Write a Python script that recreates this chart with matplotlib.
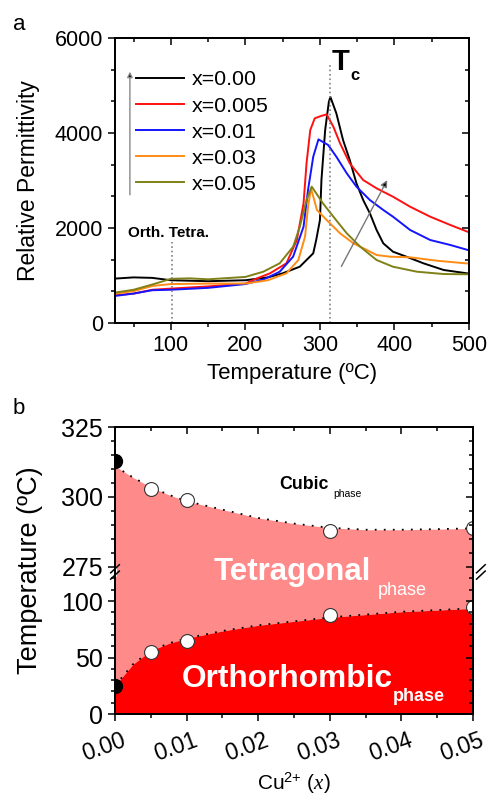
import numpy as np
import matplotlib
matplotlib.use('Agg')
from matplotlib import pyplot as plt
from matplotlib.ticker import MultipleLocator, FixedLocator
import matplotlib.transforms as mtransforms

plt.rcParams['font.family'] = ['Liberation Sans', 'DejaVu Sans']
plt.rcParams['mathtext.fontset'] = 'custom'
plt.rcParams['mathtext.rm'] = 'Liberation Sans'
plt.rcParams['mathtext.it'] = 'Liberation Serif:italic'
plt.rcParams['mathtext.bf'] = 'Liberation Sans:bold'
plt.rcParams['axes.linewidth'] = 1.2

# ---- panel a: permittivity vs temperature ----
T_000 = [25, 50, 75, 100, 150, 200, 230, 250, 273, 291, 295, 300, 302, 307, 312, 314,
         322, 331, 340, 349, 358, 367, 376, 385, 398, 416, 439, 466, 500]
e_000 = [935, 960, 950, 900, 880, 900, 960, 1046, 1186, 1467, 1750, 2168, 3010, 4063, 4660, 4760,
         4414, 3852, 3431, 2940, 2589, 2309, 1958, 1677, 1501, 1396, 1256, 1116, 1040]
T_0005 = [25, 50, 75, 100, 150, 200, 215, 233, 255, 269, 278, 282, 287, 293, 300, 309,
          318, 327, 340, 358, 376, 398, 421, 448, 475, 500]
e_0005 = [584, 619, 700, 724, 770, 830, 935, 1046, 1257, 1747, 2520, 3361, 4063, 4309, 4350, 4393,
          4133, 3782, 3361, 3010, 2835, 2659, 2448, 2238, 2063, 1910]
T_001 = [25, 50, 75, 100, 150, 200, 225, 246, 264, 278, 284, 291, 298, 311, 322, 336,
         349, 367, 385, 398, 421, 448, 475, 500]
e_001 = [570, 620, 690, 700, 740, 820, 920, 1080, 1396, 2027, 2800, 3501, 3866, 3747, 3501, 3151,
         2870, 2589, 2379, 2238, 1958, 1747, 1642, 1530]
T_003 = [25, 50, 75, 100, 150, 200, 230, 255, 271, 280, 284, 288, 296, 309, 327, 345,
         363, 376, 394, 421, 457, 500]
e_003 = [620, 670, 780, 820, 830, 830, 900, 1046, 1326, 1817, 2448, 2835, 2379, 2168, 1888, 1677,
         1537, 1431, 1396, 1383, 1311, 1250]
T_005 = [25, 50, 75, 100, 125, 150, 200, 224, 246, 264, 273, 282, 289, 304, 318, 336,
         354, 376, 398, 430, 466, 500]
e_005 = [640, 700, 810, 930, 940, 920, 970, 1080, 1257, 1606, 2027, 2589, 2870, 2520, 2238, 1888,
         1606, 1326, 1185, 1080, 1031, 1025]

labels = ['x=0.00', 'x=0.005', 'x=0.01', 'x=0.03', 'x=0.05']
colors = ['#000000', '#FF1010', '#1414FF', '#FF8C14', '#808018']

# ---- panel b: phase diagram ----
cu = [0.0, 0.005, 0.01, 0.03, 0.05]
T_c = [313, 303, 299, 288, 289]
T_ot = [25, 55, 65, 88, 95]

bnd_x = [0, 0.0025, 0.005, 0.0075, 0.01, 0.015, 0.02, 0.025, 0.03, 0.035, 0.04, 0.045, 0.05]
bnd_up = [311, 307, 303.5, 300.8, 298.5, 295.5, 292.5, 290.5, 289, 288.3, 288.3, 288.5, 288.8]
bnd_lo = [25, 44, 56, 62.5, 67, 73.5, 78.5, 82, 85.5, 88, 90.5, 92, 93.5]

fig = plt.figure(figsize=(4.88, 7.95), dpi=100)

# ================= panel a =================
ax = fig.add_axes([115/488, 1-323/795, 354/488, 285/795])
curves = [(T_000, e_000), (T_0005, e_0005), (T_001, e_001), (T_003, e_003), (T_005, e_005)]
for (t, e), c, l in zip(curves, colors, labels):
    ax.plot(t, e, color=c, lw=1.4, label=l)

ax.set_xlim(25, 500)
ax.set_ylim(0, 6000)
ax.xaxis.set_major_locator(MultipleLocator(100))
ax.xaxis.set_minor_locator(MultipleLocator(50))
ax.yaxis.set_major_locator(MultipleLocator(2000))
ax.yaxis.set_minor_locator(MultipleLocator(2000/3))
ax.tick_params(which='both', direction='out', labelsize=15.5, width=1.1)
ax.tick_params(which='major', length=5)
ax.tick_params(which='minor', length=3)
ax.set_xlabel('Temperature (ºC)', fontsize=16, labelpad=5)
ax.set_ylabel('Relative Permittivity', fontsize=16.5, labelpad=11)

# mirrored ticks pointing in
axr = ax.twinx()
axr.set_ylim(0, 6000)
axr.yaxis.set_major_locator(MultipleLocator(2000))
axr.yaxis.set_minor_locator(MultipleLocator(2000/3))
axr.tick_params(which='both', direction='in', labelright=False, width=1.1)
axr.tick_params(which='major', length=5)
axr.tick_params(which='minor', length=3)
axt = ax.twiny()
axt.set_xlim(25, 500)
axt.xaxis.set_major_locator(MultipleLocator(100))
axt.xaxis.set_minor_locator(MultipleLocator(50))
axt.tick_params(which='both', direction='in', labeltop=False, width=1.1)
axt.tick_params(which='major', length=5)
axt.tick_params(which='minor', length=3)

ax.plot([313, 313], [0, 5450], color='gray', ls=':', lw=1.2)
ax.plot([102, 102], [0, 1700], color='gray', ls=':', lw=1.2)
ax.text(316, 5330, 'T', fontsize=21, fontweight='bold')
ax.text(341, 5110, 'c', fontsize=12, fontweight='bold')
ax.text(43, 1815, 'Orth. Tetra.', fontsize=11, fontweight='bold')

ax.annotate('', xy=(45, 5350), xytext=(45, 2640),
            arrowprops=dict(arrowstyle='-|>', ec='#888888', fc='black', lw=1, mutation_scale=8))
ax.annotate('', xy=(392, 3060), xytext=(327, 1140),
            arrowprops=dict(arrowstyle='-|>', ec='#777777', fc='black', lw=1, mutation_scale=10))

ax.legend(loc='upper left', bbox_to_anchor=(0.06, 0.886), frameon=False, fontsize=15.4,
          handlelength=2.25, handletextpad=0.33, labelspacing=0.33, borderpad=0, borderaxespad=0)

fig.text(13/488, 1-30/795, 'a', fontsize=16)

# ================= panel b =================
seg_T = [0, 125.7, 273.2, 325]
seg_u = [0, 142, 142.001, 287]


def fwd(t):
    return np.interp(t, seg_T, seg_u)


def inv(u):
    return np.interp(u, seg_u, seg_T)


bx = fig.add_axes([115/488, 1-714/795, 358/488, 287/795])
bx.set_yscale('function', functions=(fwd, inv))
bx.set_xlim(0, 0.05)
bx.set_ylim(0, 325)

bx.fill_between(bnd_x, bnd_lo, bnd_up, color='#FF8A8A', lw=0)
bx.fill_between(bnd_x, 0, bnd_lo, color='#FF0000', lw=0)
bx.plot(bnd_x, bnd_up, color='black', ls=(0, (1, 4)), lw=1.3)
bx.plot(bnd_x, bnd_lo, color='black', ls=(0, (1, 4)), lw=1.3)
bx.plot(cu[1:], T_c[1:], 'o', ms=10, mfc='white', mec='#333333', mew=0.8, zorder=5)
bx.plot(cu[1:], T_ot[1:], 'o', ms=10, mfc='white', mec='#333333', mew=0.8, zorder=5)
bx.plot(cu[:1], T_c[:1], 'o', ms=10, mfc='black', mec='black', zorder=5)
bx.plot(cu[:1], T_ot[:1], 'o', ms=10, mfc='black', mec='black', zorder=5)

y_major = [0, 50, 100, 275, 300, 325]
y_minor = [10, 20, 30, 40, 60, 70, 80, 90, 110, 120, 280, 285, 290, 295, 305, 310, 315, 320]
bx.yaxis.set_major_locator(FixedLocator(y_major))
bx.yaxis.set_minor_locator(FixedLocator(y_minor))
bx.yaxis.set_major_formatter(plt.FixedFormatter([str(v) for v in y_major]))
bx.yaxis.set_minor_formatter(plt.NullFormatter())
bx.xaxis.set_major_locator(MultipleLocator(0.01))
bx.xaxis.set_minor_locator(MultipleLocator(0.005))
bx.xaxis.set_major_formatter(plt.FormatStrFormatter('%.2f'))
bx.tick_params(which='both', direction='out', width=1.1)
bx.tick_params(axis='y', labelsize=18)
bx.tick_params(axis='x', labelsize=16.5, pad=6)
bx.tick_params(which='major', length=5)
bx.tick_params(which='minor', length=3)
for lbl in bx.get_xticklabels():
    lbl.set_rotation(20)
    lbl.set_transform(lbl.get_transform() + mtransforms.ScaledTranslation(-11/100, 0, fig.dpi_scale_trans))
bx.set_xlabel(r'Cu$^{\rm 2{+}}$ ($x$)', fontsize=15, labelpad=3)
bx.set_ylabel('Temperature (ºC)', fontsize=19.5, labelpad=13)

bxr = bx.twinx()
bxr.set_yscale('function', functions=(fwd, inv))
bxr.set_ylim(0, 325)
bxr.yaxis.set_major_locator(FixedLocator(y_major))
bxr.yaxis.set_minor_locator(FixedLocator(y_minor))
bxr.tick_params(which='both', direction='in', labelright=False, width=1.1)
bxr.tick_params(which='major', length=5)
bxr.tick_params(which='minor', length=3)
bxt = bx.twiny()
bxt.set_xlim(0, 0.05)
bxt.xaxis.set_major_locator(MultipleLocator(0.01))
bxt.xaxis.set_minor_locator(MultipleLocator(0.005))
bxt.tick_params(which='both', direction='in', labeltop=False, width=1.1)
bxt.tick_params(which='major', length=5)
bxt.tick_params(which='minor', length=3)

bx.text(0.458, 0.798, 'Cubic', transform=bx.transAxes, fontsize=12.8, fontweight='bold', va='center')
bx.text(0.61, 0.765, 'phase', transform=bx.transAxes, fontsize=7.5, va='center')
bx.text(0.275, 0.496, 'Tetragonal', transform=bx.transAxes, fontsize=22.5, fontweight='bold',
        color='white', va='center')
bx.text(0.735, 0.432, 'phase', transform=bx.transAxes, fontsize=13, color='white', va='center')
bx.text(0.186, 0.121, 'Orthorhombic', transform=bx.transAxes, fontsize=22.8, fontweight='bold',
        color='white', va='center')
bx.text(0.776, 0.062, 'phase', transform=bx.transAxes, fontsize=13, fontweight='bold',
        color='white', va='center')

# axis break marks
yb = 0.495
for xa in (0.0, 1.022):
    for dy in (-0.011, 0.011):
        bx.plot([xa - 0.012, xa + 0.012], [yb + dy - 0.014, yb + dy + 0.014], transform=bx.transAxes,
                color='black', lw=1.1, clip_on=False, zorder=10)
bx.plot([0, 0], [yb - 0.01, yb + 0.01], transform=bx.transAxes, color='white', lw=2,
        clip_on=False, zorder=9)

fig.text(13/488, 1-414/795, 'b', fontsize=16)

fig.savefig('out.png', dpi=100)
